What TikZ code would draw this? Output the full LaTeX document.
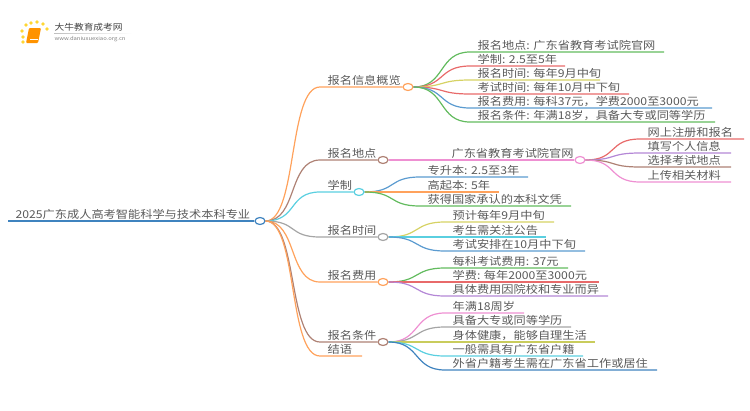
\documentclass[tikz,border=0pt]{standalone}
\usepackage{fontspec}
\setmainfont[FakeStretch=1.13]{Noto Sans CJK SC}
\usepackage{xcolor}
\usetikzlibrary{calc, positioning, shapes.geometric}
\definecolor{textgray}{HTML}{5A5A5A}
\definecolor{linered}{HTML}{E86A6A}
\definecolor{linegreen}{HTML}{62BB5E}
\definecolor{lineyellow}{HTML}{D6D264}
\definecolor{lineblue}{HTML}{5B9BD0}
\definecolor{lineorange}{HTML}{FFA25C}
\definecolor{linebrown}{HTML}{AE8174}
\definecolor{linecyan}{HTML}{5ACFE0}
\definecolor{linegray}{HTML}{A5A5A5}
\definecolor{linepink}{HTML}{EE90D2}
\definecolor{linepurple}{HTML}{B487D6}
\definecolor{lineolive}{HTML}{C9CC5C}
\definecolor{rootblue}{HTML}{3F83BF}
\tikzstyle{hub}=[ellipse, draw, fill=white, minimum width=10pt, minimum height=7pt, inner sep=0pt]
\tikzstyle{label}=[anchor=south west, align=left, inner xsep=7pt, inner ysep=1.2pt, text=textgray, font=\fontsize{10.8pt}{12pt}\selectfont]
\tikzstyle{branch}=[to path={.. controls +(32,0) and +(-32,0) .. (\tikztotarget)}]

\begin{document}
\begin{tikzpicture}[x=1pt, y=-1pt]

\tikzset{every path/.style={line width=1.2pt}}
\useasboundingbox (0,0) rectangle (750,410);

% Logo
\fill[orange!85!yellow, rounded corners=1pt] (29,28) -- (41,28) -- (38,43) -- (26,43) -- cycle;
\draw[white, line width=0.5pt] (30,39) -- (37.5,39);
\foreach \px/\py in {23/42, 23/37, 22/31, 26/25, 31/23, 37/22, 43/24, 47/29}
    \fill[orange!40!yellow!80!white] (\px,\py) circle (1.8);
\shade[left color=gray!50, right color=white, draw=none] (54,33) rectangle (132,33.6);
\node[anchor=west, inner sep=0pt, text=black!75, font=\fontsize{8.6pt}{11pt}\selectfont] (logoname) at (54,27) {大牛教育成考网};
\node[anchor=west, inner sep=0pt, text=gray, font=\fontsize{5.2pt}{7pt}\selectfont] (logourl) at (54,39) {www.daniuxuexiao.org.cn};

% Root
\node[label, text width=232pt] (root) at (8,221) {2025广东成人高考智能科学与技术本科专业};
\node[hub, draw=rootblue] (hubroot) at (260,221) {};
\draw[rootblue] (root.south west) -- (hubroot);

% Main topics
\node[label, text width=69pt] (info) at (320,87) {报名信息概览};
\node[label, text width=44pt] (place) at (320,160) {报名地点};
\node[label, text width=20pt] (length) at (320,192) {学制};
\node[label, text width=44pt] (time) at (320,237) {报名时间};
\node[label, text width=44pt] (fee) at (320,282) {报名费用};
\node[label, text width=44pt] (cond) at (320,342) {报名条件};
\node[label, text width=27pt] (ending) at (320,356) {结语};
\node[hub, draw=lineorange] (hubinfo) at (408,87) {};
\node[hub, draw=linebrown] (hubplace) at (383,160) {};
\node[hub, draw=linecyan] (hublength) at (359,192) {};
\node[hub, draw=linegray] (hubtime) at (383,237) {};
\node[hub, draw=lineorange] (hubfee) at (383,282) {};
\node[hub, draw=linebrown] (hubcond) at (383,342) {};

\draw[branch, lineorange] (hubroot.east) to (info.south west) -- (hubinfo);
\draw[branch, linebrown] (hubroot.east) to (place.south west) -- (hubplace);
\draw[branch, linecyan] (hubroot.east) to (length.south west) -- (hublength);
\draw[branch, linegray] (hubroot.east) to (time.south west) -- (hubtime);
\draw[branch, lineorange] (hubroot.east) to (fee.south west) -- (hubfee);
\draw[branch, linebrown] (hubroot.east) to (cond.south west) -- (hubcond);
\draw[branch, lineorange] (hubroot.east) to (ending.south west) -- (ending.south east);

% Overview
\node[label, text width=179pt] (info1) at (470,52) {报名地点:~广东省教育考试院官网};
\node[label, text width=80pt] (info2) at (470,66) {学制:~2.5至5年};
\node[label, text width=115pt] (info3) at (470,80) {报名时间:~每年9月中旬};
\node[label, text width=144pt] (info4) at (470,94) {考试时间:~每年10月中下旬};
\node[label, text width=227pt] (info5) at (470,108) {报名费用:~每科37元，学费2000至3000元};
\node[label, text width=230pt] (info6) at (470,122) {报名条件:~年满18岁，具备大专或同等学历};
\draw[branch, linegreen] (hubinfo.east) to (info1.south west) -- (info1.south east);
\draw[branch, linered] (hubinfo.east) to (info2.south west) -- (info2.south east);
\draw[branch, lineyellow] (hubinfo.east) to (info3.south west) -- (info3.south east);
\draw[branch, linered] (hubinfo.east) to (info4.south west) -- (info4.south east);
\draw[branch, lineblue] (hubinfo.east) to (info5.south west) -- (info5.south east);
\draw[branch, linegreen] (hubinfo.east) to (info6.south west) -- (info6.south east);

% Place
\node[label, text width=183pt, align=right, inner xsep=2pt] (office) at (388,160) {广东省教育考试院官网};
\node[hub, draw=linepink] (huboffice) at (580,160) {};
\draw[linepink] (hubplace) -- (huboffice);
\node[label, text width=89pt] (office1) at (640,139) {网上注册和报名};
\node[label, text width=76pt] (office2) at (640,153) {填写个人信息};
\node[label, text width=76pt] (office3) at (640,167) {选择考试地点};
\node[label, text width=76pt] (office4) at (640,182) {上传相关材料};
\draw[branch, linered] (huboffice.east) to (office1.south west) -- (office1.south east);
\draw[branch, linepurple] (huboffice.east) to (office2.south west) -- (office2.south east);
\draw[branch, linebrown] (huboffice.east) to (office3.south west) -- (office3.south east);
\draw[branch, linepink] (huboffice.east) to (office4.south west) -- (office4.south east);

% Length of study
\node[label, text width=93pt] (length1) at (420,177) {专升本:~2.5至3年};
\node[label, text width=64pt] (length2) at (420,192) {高起本:~5年};
\node[label, text width=136pt] (length3) at (420,206) {获得国家承认的本科文凭};
\draw[branch, lineblue] (hublength.east) to (length1.south west) -- (length1.south east);
\draw[branch, lineorange] (hublength.east) to (length2.south west) -- (length2.south east);
\draw[branch, linegreen] (hublength.east) to (length3.south west) -- (length3.south east);

% Time
\node[label, text width=94pt] (time1) at (445,222) {预计每年9月中旬};
\node[label, text width=86pt] (time2) at (445,237) {考生需关注公告};
\node[label, text width=125pt] (time3) at (445,251) {考试安排在10月中下旬};
\draw[branch, lineyellow] (hubtime.east) to (time1.south west) -- (time1.south east);
\draw[branch, linecyan] (hubtime.east) to (time2.south west) -- (time2.south east);
\draw[branch, lineblue] (hubtime.east) to (time3.south west) -- (time3.south east);

% Fee
\node[label, text width=108pt] (fee1) at (445,268) {每科考试费用:~37元};
\node[label, text width=139pt] (fee2) at (445,282) {学费:~每年2000至3000元};
\node[label, text width=148pt] (fee3) at (445,296) {具体费用因院校和专业而异};
\draw[branch, linegreen] (hubfee.east) to (fee1.south west) -- (fee1.south east);
\draw[branch, linered] (hubfee.east) to (fee2.south west) -- (fee2.south east);
\draw[branch, linepurple] (hubfee.east) to (fee3.south west) -- (fee3.south east);

% Conditions
\node[label, text width=64pt] (cond1) at (445,313) {年满18周岁};
\node[label, text width=111pt] (cond2) at (445,327) {具备大专或同等学历};
\node[label, text width=135pt] (cond3) at (445,342) {身体健康，能够自理生活};
\node[label, text width=123pt] (cond4) at (445,356) {一般需具有广东省户籍};
\node[label, text width=197pt] (cond5) at (445,370) {外省户籍考生需在广东省工作或居住};
\draw[branch, linepink] (hubcond.east) to (cond1.south west) -- (cond1.south east);
\draw[branch, linegray] (hubcond.east) to (cond2.south west) -- (cond2.south east);
\draw[branch, lineolive] (hubcond.east) to (cond3.south west) -- (cond3.south east);
\draw[branch, linecyan] (hubcond.east) to (cond4.south west) -- (cond4.south east);
\draw[branch, rootblue] (hubcond.east) to (cond5.south west) -- (cond5.south east);

\end{tikzpicture}
\end{document}
